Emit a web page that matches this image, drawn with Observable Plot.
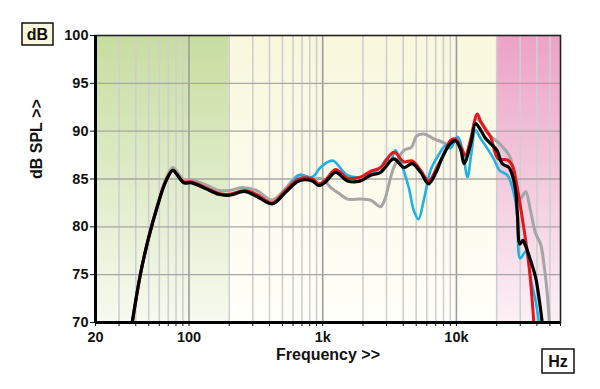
<!DOCTYPE html>
<html><head><meta charset="utf-8">
<script src="https://cdn.jsdelivr.net/npm/d3@7"></script>
<script src="https://cdn.jsdelivr.net/npm/@observablehq/plot@0.6"></script>
<style>
body{margin:0;background:#fff;}
#chart{width:600px;height:389px;}
</style></head><body><div id="chart"></div>
<script>
// ---- data (frequency in Hz, level in dB SPL) ----
const grayF  = [37.6,43.4,50,57.9,66.8,75.7,84,91.5,105,133,167,200,250,320,419,527,663,835,1000,1150,1350,1530,1920,2280,2710,2900,3400,4050,4600,5050,5700,6800,8000,9000,10000,11000,11600,12800,14000,16000,18000,21000,24700,26500,28000,29800,31500,33000,35800,39100,42600,45100,47800,49500];
const grayDb = [70,75.1,78.9,82.2,84.9,86.2,85.5,84.9,84.9,84.4,83.8,83.8,84.1,83.8,82.8,84.0,85.4,85.0,85.0,84.1,83.4,82.9,82.9,82.8,82.1,82.8,86.2,88.0,88.3,89.5,89.7,89.2,88.8,88.5,89.0,88.0,87.3,89.0,91.3,90.6,89.5,88.7,87.5,86.2,84.5,82.9,83.3,83.7,81.7,79.3,78.2,76.1,73.0,70];

const blueF  = [37.6,43.4,50,57.9,66.8,75.7,84,91.5,105,133,167,200,260,320,419,527,663,835,960,1100,1200,1530,1920,2280,2710,3000,3200,3500,3800,4400,4800,5200,5700,6400,7200,8300,9000,10200,11000,12100,12900,13900,15200,17000,19000,21000,24000,26200,28300,30000,32900,35800,39000,41400];
const blueDb = [70,75.1,78.9,82.1,84.7,85.9,85.2,84.6,84.6,84.0,83.4,83.3,83.7,83.2,82.4,83.6,85.4,85.2,86.2,86.8,86.9,85.4,85.2,85.5,86.2,87.1,86.9,88.0,86.9,84.1,81.7,80.8,82.8,85.9,87.3,88.5,88.2,89.4,88.3,85.2,87.6,90.1,89.2,88.2,87.1,85.9,85.4,84.1,81.7,76.7,77.4,74.7,72.3,70];

const redF  = [37.8,43.4,50,57.9,66.8,75.7,84,91.5,105,133,167,200,260,320,419,527,663,835,936,1050,1250,1530,1920,2280,2710,3400,4050,4670,5400,6200,7200,8000,9000,9850,10800,11700,12800,14300,15200,16600,18000,20500,24000,26200,28500,31000,34800,37900];
const redDb = [70,75.1,78.9,82.1,84.7,85.9,85.2,84.7,84.7,84.1,83.5,83.4,83.8,83.4,82.5,83.8,85.0,85.0,84.5,84.9,86.0,85.1,85.2,85.8,86.2,87.8,86.8,86.9,85.9,84.8,86.3,87.5,89.0,89.2,88.3,87.5,89.2,91.8,91.0,90.1,89.4,87.1,87.0,86.4,84.1,81.0,76.1,70];

const blackF  = [37.6,43.4,50,57.9,66.8,75.7,84,91.5,105,133,167,200,260,320,419,527,663,835,936,1050,1250,1530,1920,2280,2710,3400,4050,4670,5400,6200,7200,7800,9000,9850,10800,11400,12800,13900,15200,16600,18000,20100,22000,24700,26200,27700,28600,29800,31300,32900,35800,39100,41400,43800];
const blackDb = [70,75.1,78.9,82.1,84.7,85.9,85.2,84.6,84.6,84.0,83.4,83.3,83.7,83.2,82.4,83.6,84.8,84.8,84.3,84.7,85.7,84.8,84.8,85.4,85.7,87.1,86.2,86.6,85.7,84.5,86.0,87.2,88.7,89.0,88.0,86.6,88.7,90.8,90.1,89.2,88.7,88.0,86.6,86.2,85.4,83.8,81.2,78.2,78.6,78.0,76.5,74.7,72.6,70];

const yTicks = [70,75,80,85,90,95,100];
const xGridMinor = [30,40,50,60,70,80,90,200,300,400,500,600,700,800,900,2000,3000,4000,5000,6000,7000,8000,9000,20000,30000,40000,50000];
const xGridMajor = [100,1000,10000];
const xTickValues = [20,30,40,50,60,70,80,90,100,200,300,400,500,600,700,800,900,1000,2000,3000,4000,5000,6000,7000,8000,9000,10000,20000,30000,40000,50000,60000];
const xTickLabelValues = [20,100,1000,10000,60000];
const xTickLabelTexts  = ["20","100","1k","10k","60k"];
const bandEdges = [20,200,20000,60000];
const bandIds = ["bgGreen","bgYellow","bgPink"];
const bandTop = ["#c7dd9f","#f9f7dc","#eca2c6"];
const bandBottom = ["#f7faf0","#fffffa","#fbf1f5"];

const series = [
  {f: grayF,  db: grayDb,  color: "#a5a5a5", w: 3},
  {f: blueF,  db: blueDb,  color: "#1eb2e4", w: 2.6},
  {f: redF,   db: redDb,   color: "#e8141c", w: 3},
  {f: blackF, db: blackDb, color: "#000000", w: 3.2}
];

const labelMap = new Map(xTickLabelValues.map((v,i)=>[v, xTickLabelTexts[i]]));
const bands = bandIds.map((id,i)=>({x1: bandEdges[i], x2: bandEdges[i+1], id}));

const chart = Plot.plot({
  width: 600, height: 389,
  marginLeft: 95, marginRight: 40, marginTop: 35, marginBottom: 67,
  style: {fontFamily: "'Liberation Sans', Arial, sans-serif", fontSize: "14.5px", fontWeight: "bold", color: "#111", background: "#fff", overflow: "visible"},
  x: {type: "log", domain: [20, 60000], ticks: xTickValues, tickFormat: v => labelMap.get(v) ?? "", tickSize: 4, tickPadding: 5, label: null},
  y: {domain: [70, 100], ticks: yTicks, tickSize: 5, tickPadding: 2, label: null},
  marks: [
    ...bands.map(b => Plot.rect([b], {x1: "x1", x2: "x2", y1: () => 70, y2: () => 100, fill: `url(#${b.id})`})),
    Plot.ruleX(xGridMinor, {stroke: "#cfcfcf", strokeWidth: 1.6}),
    Plot.ruleX(xGridMajor, {stroke: "#9c9c9c", strokeWidth: 1.6}),
    Plot.ruleY(yTicks.slice(1, -1), {stroke: "#a6a6a6", strokeWidth: 1.4}),
    ...series.map(s => Plot.line(s.f.map((f,i)=>({f, db: s.db[i]})), {x: "f", y: "db", stroke: s.color, strokeWidth: s.w, curve: "catmull-rom", clip: true, strokeLinejoin: "round"})),
    Plot.frame({stroke: "#222", strokeWidth: 1.6}),
    Plot.ruleX([20], {stroke: "#000", strokeWidth: 3}),
    Plot.ruleY([70], {stroke: "#000", strokeWidth: 3}),
    Plot.text(["dB SPL >>"], {text: d => d, frameAnchor: "left", dx: -59, rotate: -90, fontSize: 16, fontWeight: "bold"}),
    Plot.text(["Frequency >>"], {text: d => d, frameAnchor: "bottom", dy: 37, fontSize: 16, fontWeight: "bold"})
  ]
});

const svg = d3.select(chart);
const defs = svg.insert("defs", ":first-child");
bandIds.forEach((id,i) => {
  const g = defs.append("linearGradient").attr("id", id).attr("x1",0).attr("y1",0).attr("x2",0).attr("y2",1);
  g.append("stop").attr("offset","0%").attr("stop-color", bandTop[i]);
  g.append("stop").attr("offset","100%").attr("stop-color", bandBottom[i]);
});
// unit boxes
const boxes = [{t:"dB", x:22, y:23, w:31, h:22, fill:"#fbf8dc"}, {t:"Hz", x:542, y:349, w:32, h:24, fill:"#ffffff"}];
boxes.forEach(b => {
  svg.append("rect").attr("x",b.x).attr("y",b.y).attr("width",b.w).attr("height",b.h).attr("fill",b.fill).attr("stroke","#111").attr("stroke-width",1.5);
  svg.append("text").attr("x",b.x+b.w/2).attr("y",b.y+b.h/2).attr("text-anchor","middle").attr("dy","0.36em").attr("font-size",16).attr("font-weight","bold").attr("fill","#111").text(b.t);
});
document.getElementById("chart").append(chart);
</script>
</body></html>
